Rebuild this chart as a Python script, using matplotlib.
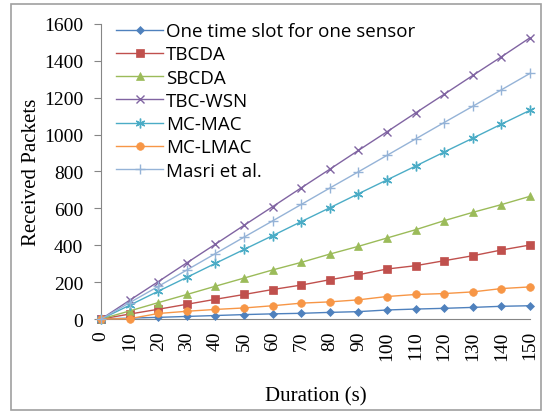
import matplotlib
matplotlib.use("Agg")
from matplotlib import pyplot as plt
from matplotlib.patches import Rectangle

# duration in seconds
duration = [0, 10, 20, 30, 40, 50, 60, 70, 80, 90, 100, 110, 120, 130, 140, 150]

one_slot = [0, 5, 9, 14, 19, 24, 28, 31, 36, 40, 49, 54, 58, 63, 69, 72]
tbcda = [0, 27, 53, 80, 107, 133, 160, 184, 213, 240, 271, 289, 316, 343, 374, 401]
sbcda = [0, 44, 89, 133, 178, 222, 266, 307, 352, 394, 439, 484, 533, 578, 620, 665]
tbc_wsn = [0, 102, 203, 305, 406, 508, 609, 711, 812, 914, 1015, 1117, 1218, 1320, 1421, 1524]
mc_mac = [0, 75, 151, 226, 302, 377, 452, 528, 603, 679, 754, 829, 905, 980, 1056, 1131]
mc_lmac = [0, 2, 30, 42, 52, 60, 72, 86, 93, 104, 122, 133, 138, 147, 165, 174]
masri = [0, 89, 177, 266, 355, 444, 532, 621, 710, 798, 887, 976, 1065, 1153, 1242, 1331]

series = [
    ("One time slot for one sensor", one_slot, "#4F81BD", "D", 4.5),
    ("TBCDA", tbcda, "#C0504D", "s", 5.5),
    ("SBCDA", sbcda, "#9BBB59", "^", 6),
    ("TBC-WSN", tbc_wsn, "#8064A2", "x", 6),
    ("MC-MAC", mc_mac, "#4BACC6", (6, 2, 0), 7),
    ("MC-LMAC", mc_lmac, "#F79646", "o", 5.5),
    ("Masri et al.", masri, "#95B3D7", "+", 7),
]

fig = plt.figure(figsize=(5.44, 4.14), dpi=100)
ax = fig.add_axes([0.186, 0.227, 0.788, 0.713])

for name, values, color, marker, size in series:
    ax.plot(duration, values, color=color, marker=marker, markersize=size,
            linewidth=1.0, markeredgewidth=1.0 if marker in ("x", "+", (6, 2, 0)) else 0.5,
            label=name, clip_on=False, zorder=3)

ax.set_xlim(0, 150)
ax.set_ylim(0, 1600)
ax.set_xticks(duration)
ax.set_xticklabels([str(d) for d in duration], rotation=90,
                   family="Liberation Serif", fontsize=14)
ax.set_yticks(range(0, 1601, 200))
ax.set_yticklabels([str(v) for v in range(0, 1601, 200)],
                   family="Liberation Serif", fontsize=14)
ax.tick_params(axis="x", length=0, pad=8)
ax.tick_params(axis="y", length=5, color="#868686", pad=8)

for side in ("top", "right"):
    ax.spines[side].set_visible(False)
ax.spines["left"].set_color("#868686")
ax.spines["bottom"].set_color("#868686")
ax.spines["bottom"].set_zorder(2)

ax.set_ylabel("Received Packets", family="Liberation Serif", fontsize=15, labelpad=2)
ax.set_xlabel("Duration (s)", family="Liberation Serif", fontsize=15, labelpad=19)

leg = ax.legend(loc="upper left", bbox_to_anchor=(0.005, 1.05), frameon=False,
                prop={"family": "Open Sans", "size": 13.5}, handlelength=2.5,
                labelspacing=0.28, borderaxespad=0.3, handletextpad=0.15)

fig.patches.append(Rectangle((11 / 544, 3 / 414), 530 / 544, 406 / 414,
                             transform=fig.transFigure, fill=False,
                             edgecolor="#a0a0a0", linewidth=1.2))

fig.savefig("out.png", dpi=100)
